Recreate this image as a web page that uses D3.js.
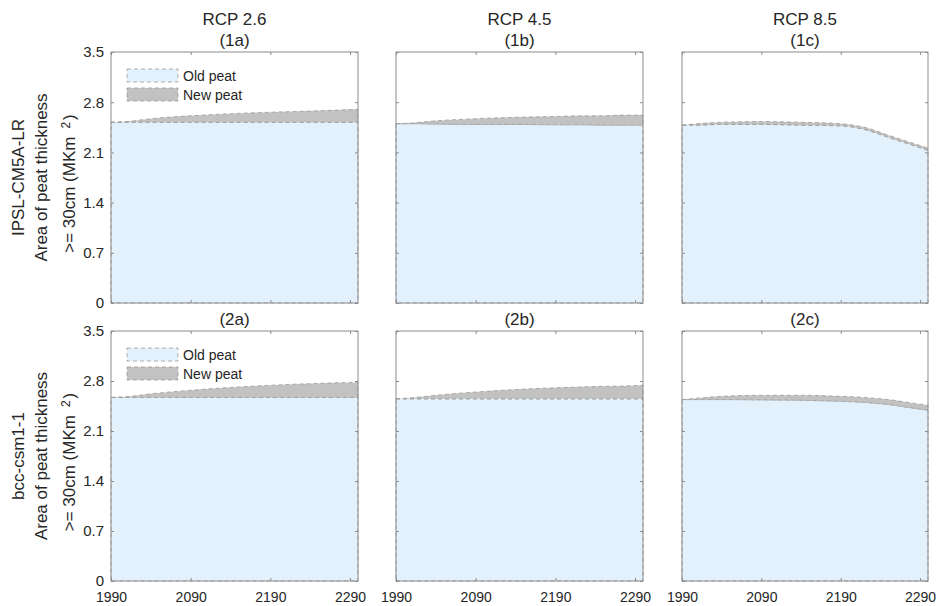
<!DOCTYPE html>
<html>
<head>
<meta charset="utf-8">
<script src="https://cdn.jsdelivr.net/npm/d3@7"></script>
<style>
  body { margin: 0; background: #fff; }
  svg text { font-family: "Liberation Sans", Arial, sans-serif; fill: #262626; }
</style>
</head>
<body>
<svg id="chart" width="936" height="606"></svg>
<script>
// years sampled along every run
var years = [1990, 2010, 2040, 2090, 2140, 2190, 2220, 2250, 2275, 2300];

// area of peat >= 30cm (MKm2): old peat and total (old + new)
var old1a = [2.52, 2.52, 2.52, 2.52, 2.52, 2.52, 2.52, 2.52, 2.52, 2.52];
var tot1a = [2.52, 2.53, 2.57, 2.61, 2.64, 2.66, 2.67, 2.68, 2.69, 2.70];
var old1b = [2.50, 2.50, 2.495, 2.49, 2.49, 2.485, 2.485, 2.48, 2.48, 2.48];
var tot1b = [2.50, 2.51, 2.54, 2.57, 2.59, 2.60, 2.61, 2.61, 2.62, 2.62];
var old1c = [2.48, 2.48, 2.49, 2.49, 2.48, 2.47, 2.42, 2.31, 2.22, 2.13];
var tot1c = [2.48, 2.50, 2.52, 2.53, 2.52, 2.50, 2.45, 2.34, 2.25, 2.16];
var old2a = [2.57, 2.57, 2.57, 2.57, 2.57, 2.57, 2.57, 2.57, 2.57, 2.57];
var tot2a = [2.57, 2.58, 2.62, 2.67, 2.71, 2.74, 2.755, 2.765, 2.775, 2.78];
var old2b = [2.55, 2.55, 2.55, 2.55, 2.55, 2.55, 2.55, 2.55, 2.55, 2.55];
var tot2b = [2.55, 2.565, 2.60, 2.645, 2.68, 2.705, 2.715, 2.725, 2.73, 2.74];
var old2c = [2.54, 2.54, 2.54, 2.535, 2.53, 2.515, 2.50, 2.47, 2.43, 2.39];
var tot2c = [2.54, 2.56, 2.585, 2.60, 2.60, 2.585, 2.57, 2.54, 2.50, 2.46];

var scenarios = ["RCP 2.6", "RCP 4.5", "RCP 8.5"];
var models = ["IPSL-CM5A-LR", "bcc-csm1-1"];
var panelTags = [["(1a)", "(1b)", "(1c)"], ["(2a)", "(2b)", "(2c)"]];
var xTicks = [1990, 2090, 2190, 2290];
var yTicks = [0, 0.7, 1.4, 2.1, 2.8, 3.5];
var legendLabels = ["Old peat", "New peat"];

var panelData = [
  [[old1a, tot1a], [old1b, tot1b], [old1c, tot1c]],
  [[old2a, tot2a], [old2b, tot2b], [old2c, tot2c]]
];

var colX = [[111, 358], [396, 643], [682, 928]];
var rowY = [[52, 303], [331, 581]];
var oldColor = "#e3f1fd";
var newColor = "#c2c2c2";
var edgeColor = "#9a9a9a";
var boxColor = "#8c8c8c";

var svg = d3.select("#chart");

panelData.forEach(function (row, r) {
  row.forEach(function (cell, c) {
    var x = d3.scaleLinear().domain([1990, 2300]).range(colX[c]);
    var y = d3.scaleLinear().domain([0, 3.5]).range([rowY[r][1], rowY[r][0]]);
    var g = svg.append("g");

    var pts = years.map(function (yr, i) {
      return { year: yr, old: cell[0][i], tot: cell[1][i] };
    });

    var oldArea = d3.area().curve(d3.curveMonotoneX)
      .x(function (d) { return x(d.year); })
      .y0(function () { return y(0); })
      .y1(function (d) { return y(d.old); });
    var newArea = d3.area().curve(d3.curveMonotoneX)
      .x(function (d) { return x(d.year); })
      .y0(function (d) { return y(d.old); })
      .y1(function (d) { return y(d.tot); });

    g.append("path").datum(pts).attr("d", oldArea)
      .attr("fill", oldColor).attr("stroke", edgeColor)
      .attr("stroke-width", 0.8).attr("stroke-dasharray", "4,3");
    g.append("path").datum(pts).attr("d", newArea)
      .attr("fill", newColor).attr("stroke", edgeColor)
      .attr("stroke-width", 0.8).attr("stroke-dasharray", "4,3");

    // box ticks, inward on all sides: [axis, transform, labelled, padding, font size]
    var axes = [
      [d3.axisBottom(x).tickValues(xTicks), "translate(0," + y(0) + ")", r === 1, 11, 14],
      [d3.axisTop(x).tickValues(xTicks), "translate(0," + y(3.5) + ")", false, 6, 14],
      [d3.axisLeft(y).tickValues(yTicks), "translate(" + x(1990) + ",0)", c === 0, 7, 15],
      [d3.axisRight(y).tickValues(yTicks), "translate(" + x(2300) + ",0)", false, 7, 15]
    ];
    axes.forEach(function (a) {
      var ax = g.append("g").attr("transform", a[1])
        .call(a[0].tickSizeInner(-3).tickSizeOuter(0).tickPadding(a[3])
          .tickFormat(a[2] ? d3.format("") : ""));
      ax.select(".domain").remove();
      ax.selectAll("line").attr("stroke", boxColor);
      ax.selectAll("text").attr("font-size", a[4])
        .style("font-family", "'Liberation Sans', Arial, sans-serif").attr("fill", "#262626");
    });

    g.append("rect")
      .attr("x", x(1990)).attr("y", y(3.5))
      .attr("width", x(2300) - x(1990)).attr("height", y(0) - y(3.5))
      .attr("fill", "none").attr("stroke", boxColor).attr("stroke-width", 1);

    var cx = (x(1990) + x(2300)) / 2;
    if (r === 0) {
      g.append("text").attr("x", cx).attr("y", 25).attr("text-anchor", "middle")
        .attr("font-size", 17).text(scenarios[c]);
    }
    g.append("text").attr("x", cx).attr("y", y(3.5) - 6).attr("text-anchor", "middle")
      .attr("font-size", 17).text(panelTags[r][c]);

    // legend in left column
    if (c === 0) {
      legendLabels.forEach(function (lab, i) {
        var ly = y(3.5) + 17 + i * 19;
        g.append("rect").attr("x", x(1990) + 16).attr("y", ly).attr("width", 51).attr("height", 13)
          .attr("fill", i === 0 ? oldColor : newColor).attr("stroke", edgeColor)
          .attr("stroke-width", 0.8).attr("stroke-dasharray", "4,3");
        g.append("text").attr("x", x(1990) + 72).attr("y", ly + 12)
          .attr("font-size", 14).text(lab);
      });

      var midY = (y(0) + y(3.5)) / 2;
      var lab = g.append("text").attr("transform", "translate(0," + midY + ") rotate(-90)")
        .attr("text-anchor", "middle").attr("font-size", 17);
      lab.append("tspan").attr("x", 0).attr("y", 24).text(models[r]);
      lab.append("tspan").attr("x", 0).attr("y", 47).text("Area of peat thickness");
      lab.append("tspan").attr("x", 0).attr("y", 75).attr("dx", -6).text(">= 30cm (MKm");
      lab.append("tspan").attr("dx", 8).attr("dy", -5).attr("font-size", 12).text("2");
      lab.append("tspan").attr("dx", 2).attr("dy", 5).text(")");
    }
  });
});
</script>
</body>
</html>
